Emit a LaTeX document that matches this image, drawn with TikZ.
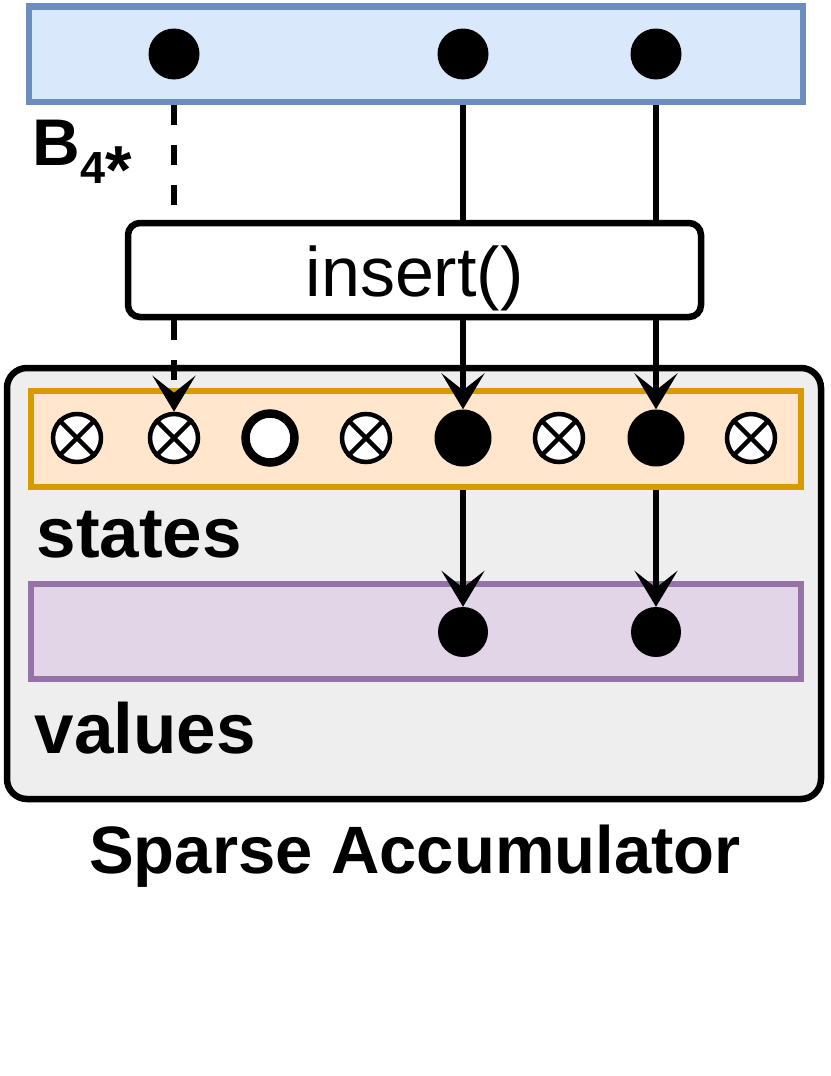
\documentclass[tikz,border=0pt]{standalone}
\usepackage{fontspec}
\setmainfont{Liberation Sans}
\usetikzlibrary{arrows.meta}

\definecolor{inblue}{HTML}{DAE8FC}
\definecolor{inblueline}{HTML}{6C8EBF}
\definecolor{stfill}{HTML}{FFE6CC}
\definecolor{stline}{HTML}{D79B00}
\definecolor{valfill}{HTML}{E1D5E7}
\definecolor{valline}{HTML}{9673A6}
\definecolor{spagray}{HTML}{EEEEEE}

\begin{document}
\begin{tikzpicture}[x=1pt,y=-1pt,
  rowbox/.style={draw, line width=6.5pt, inner sep=0pt},
  fulldot/.style={circle, fill=black, inner sep=0pt, minimum size=#1},
  crossdot/.style={circle, draw, fill=white, line width=4.5pt, inner sep=0pt, minimum size=48pt},
  emptydot/.style={circle, draw, fill=white, line width=8.5pt, inner sep=0pt, minimum size=49pt},
  link/.style={line width=6.5pt},
  arrowtip/.style={-{Stealth[length=36pt,width=43pt,inset=17pt]}},
  lbl/.style={anchor=base west, font=\fontsize{71}{80}\selectfont\bfseries}]
\useasboundingbox (0,0) rectangle (830,1076);

%Shape: accumulator frame
\node[rowbox, fill=spagray, rounded corners=20pt, minimum width=814pt, minimum height=431pt] (spa) at (414,583.5) {};
%Shape: states row
\node[rowbox, draw=stline, fill=stfill, minimum width=770pt, minimum height=96pt] (st) at (416,439) {};
%Shape: values row
\node[rowbox, draw=valline, fill=valfill, minimum width=770pt, minimum height=95pt] (val) at (416,631.5) {};
%Shape: input row
\node[rowbox, draw=inblueline, fill=inblue, minimum width=774pt, minimum height=95.5pt] (inrow) at (416,54.25) {};

%input entries
\node[fulldot=51pt] (t1) at (174,54) {};
\node[fulldot=51pt] (t2) at (463,54) {};
\node[fulldot=51pt] (t3) at (656,54) {};

%state entries
\foreach \n/\x in {1/77,2/174,4/366,6/559,8/751}{
  \node[crossdot] (s\n) at (\x,438) {};
  \draw[line width=4.5pt] (s\n.45) -- (s\n.225) (s\n.135) -- (s\n.315);
}
\node[emptydot] (s3) at (270,438) {};
\node[fulldot=57pt] (s5) at (463,438) {};
\node[fulldot=57pt] (s7) at (656,438) {};

%value entries
\node[fulldot=50pt] (v5) at (463,632) {};
\node[fulldot=50pt] (v7) at (656,632) {};

%insert box
\node[rowbox, fill=white, rounded corners=12pt, minimum width=573pt, minimum height=94pt,
      text height=52pt, text depth=0pt, font=\fontsize{70}{76}\selectfont] (ins) at (414.5,270) {insert()};

%Straight Lines
\draw[link, dash pattern=on 20pt off 20pt] (t1 |- inrow.south) -- (t1 |- ins.north);
\draw[link, dash pattern=on 20pt off 20pt, arrowtip] (t1 |- ins.south) -- (s2.north);
\draw[link] (t2 |- inrow.south) -- (t2 |- ins.north);
\draw[link, arrowtip] (t2 |- ins.south) -- (s5.north);
\draw[link] (t3 |- inrow.south) -- (t3 |- ins.north);
\draw[link, arrowtip] (t3 |- ins.south) -- (s7.north);
\draw[link, arrowtip] (s5 |- st.south) -- (v5.north);
\draw[link, arrowtip] (s7 |- st.south) -- (v7.north);

% Text Node
\node[anchor=base west, font=\fontsize{66}{70}\selectfont\bfseries] (blab) at (29,165)
  {B\raisebox{-18pt}{\fontsize{45}{45}\selectfont 4\fontsize{68}{68}\selectfont\raisebox{-10pt}{*}}};
% Text Node
\node[lbl] (stlab) at (33,557) {states};
% Text Node
\node[lbl] (vallab) at (31,753) {values};
% Text Node
\node[anchor=base, font=\fontsize{67}{75}\selectfont\bfseries] (spalab) at (415,873) {Sparse Accumulator};
\end{tikzpicture}
\end{document}
